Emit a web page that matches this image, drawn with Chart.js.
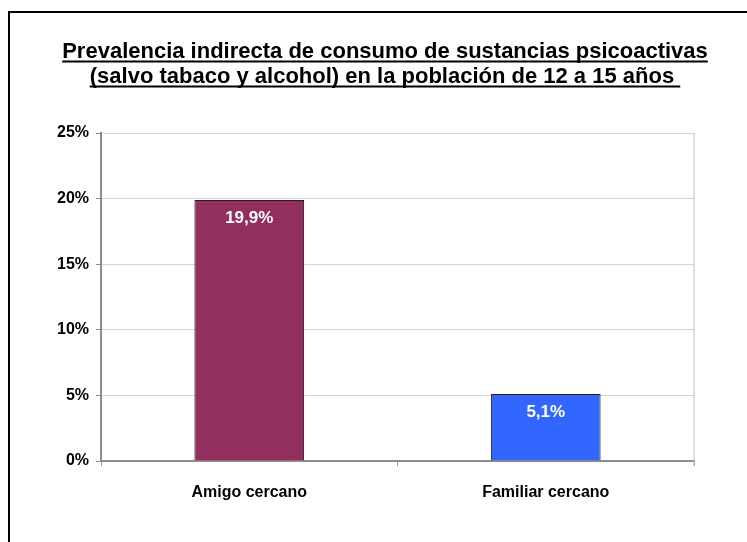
<!DOCTYPE html>
<html>
<head>
<meta charset="utf-8">
<script src="https://cdn.jsdelivr.net/npm/chart.js@4.4.0/dist/chart.umd.min.js"></script>
<style>
  html, body { margin: 0; padding: 0; background: #fff; overflow: hidden; }
  #frame { position: absolute; left: 8px; top: 11px; width: 800px; height: 600px; border: 2px solid #000; }
  #chart { position: absolute; left: 0; top: 0; }
</style>
</head>
<body>
<div id="frame"></div>
<canvas id="chart" width="747" height="542"></canvas>
<script>
// data
const categories = ['Amigo cercano', 'Familiar cercano'];
const values = [19.9, 5.1];
const valueLabels = ['19,9%', '5,1%'];
const barColors = ['#932F5E', '#3366FF'];
const titleLines = ['Prevalencia indirecta de consumo de sustancias psicoactivas',
                    '(salvo tabaco y alcohol) en la población de 12 a 15 años '];

const font = "'Liberation Sans', Arial, sans-serif";

// underlined title drawn on the canvas
const titlePlugin = {
    id: 'underlinedTitle',
    afterDraw(chart) {
        const ctx = chart.ctx;
        ctx.save();
        ctx.font = 'bold 22px ' + font;
        ctx.fillStyle = '#000';
        ctx.strokeStyle = '#000';
        ctx.lineWidth = 2;
        ctx.textAlign = 'center';
        ctx.textBaseline = 'alphabetic';
        const cx = 385;
        const ys = [58, 83];
        titleLines.forEach((t, i) => {
            ctx.fillText(t, cx, ys[i]);
            const w = ctx.measureText(t).width;
            ctx.beginPath();
            ctx.moveTo(cx - w / 2, ys[i] + 3.5);
            ctx.lineTo(cx + w / 2, ys[i] + 3.5);
            ctx.stroke();
        });
        ctx.restore();
    }
};

// plot area frame (right side gray line)
const framePlugin = {
    id: 'plotFrame',
    beforeDatasetsDraw(chart) {
        const a = chart.chartArea;
        const ctx = chart.ctx;
        ctx.save();
        ctx.strokeStyle = '#bdbdbd';
        ctx.lineWidth = 1;
        ctx.beginPath();
        ctx.moveTo(a.right, a.top);
        ctx.lineTo(a.right, a.bottom + 5);
        ctx.stroke();
        ctx.restore();
    }
};

// value labels inside the top of each bar
const labelPlugin = {
    id: 'barLabels',
    afterDatasetsDraw(chart) {
        const ctx = chart.ctx;
        const meta = chart.getDatasetMeta(0);
        ctx.save();
        ctx.font = 'bold 17px ' + font;
        ctx.fillStyle = '#fff';
        ctx.textAlign = 'center';
        ctx.textBaseline = 'middle';
        meta.data.forEach((bar, i) => {
            ctx.fillText(valueLabels[i], bar.x, bar.y + 18);
        });
        ctx.restore();
    }
};

new Chart(document.getElementById('chart'), {
    type: 'bar',
    data: {
        labels: categories,
        datasets: [{
            data: values,
            backgroundColor: barColors,
            borderColor: '#2a1a22',
            borderWidth: 1,
            barPercentage: 0.37,
            categoryPercentage: 1
        }]
    },
    options: {
        responsive: false,
        animation: false,
        layout: { padding: { left: 0, right: 53, top: 133, bottom: 0 } },
        plugins: {
            legend: { display: false },
            tooltip: { enabled: false }
        },
        scales: {
            x: {
                offset: true,
                grid: { offset: true, drawOnChartArea: false, drawTicks: true, tickLength: 5, color: '#999' },
                border: { color: '#8c8c8c', width: 2 },
                ticks: { color: '#000', font: { family: font, size: 16, weight: 'bold' }, padding: 17 },
                afterFit(scale) { scale.height = 81; }
            },
            y: {
                min: 0,
                max: 25,
                ticks: {
                    stepSize: 5,
                    color: '#000',
                    padding: 7,
                    font: { family: font, size: 16, weight: 'bold' },
                    callback: v => v + '%'
                },
                grid: { color: '#d4d4d4', tickLength: 5, tickColor: '#8c8c8c' },
                border: { color: '#8c8c8c', width: 2 },
                afterFit(scale) { scale.width = 101; }
            }
        }
    },
    plugins: [titlePlugin, framePlugin, labelPlugin]
});
</script>
</body>
</html>
